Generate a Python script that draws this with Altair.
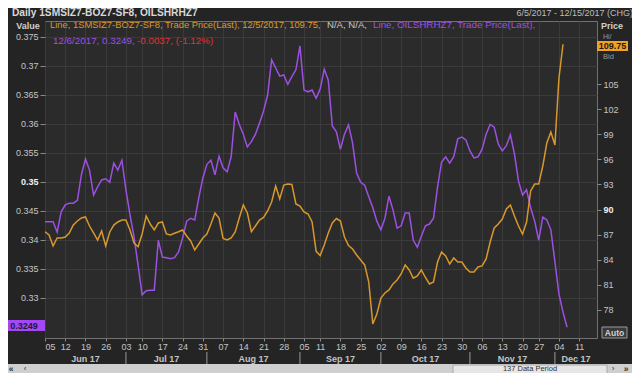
import altair as alt
import pandas as pd

FONT = "Liberation Sans"
BG = "#242424"
PLOT_BG = "#2b2b2b"
GRID = "#3b3b3b"
LBL = "#c4c4c4"
PURPLE = "#9d50e2"
ORANGE = "#d8982c"
RED = "#e03232"

# OILSHRHZ7 (left axis, "Value") - one value per trading day from 6/5/2017
purple_vals = [
    0.3431, 0.3431, 0.3431, 0.3413, 0.3448, 0.3460, 0.3463, 0.3463, 0.3468, 0.3512,
    0.3539, 0.3520, 0.3477, 0.3491, 0.3503, 0.3505, 0.3499, 0.3532, 0.3520, 0.3537,
    0.3486, 0.3443, 0.3405, 0.3356, 0.3305, 0.3312, 0.3313, 0.3313, 0.3399, 0.3370,
    0.3369, 0.3367, 0.3369, 0.3379, 0.3403, 0.3432, 0.3437, 0.3434, 0.3472, 0.3506,
    0.3530, 0.3537, 0.3512, 0.3544, 0.3524, 0.3517, 0.3543, 0.3620, 0.3599, 0.3582,
    0.3560, 0.3569, 0.3582, 0.3601, 0.3622, 0.3649, 0.3710, 0.3696, 0.3682, 0.3684,
    0.3668, 0.3681, 0.3693, 0.3734, 0.3658, 0.3655, 0.3658, 0.3644, 0.3660, 0.3694,
    0.3675, 0.3596, 0.3586, 0.3556, 0.3582, 0.3598, 0.3567, 0.3515, 0.3499, 0.3494,
    0.3474, 0.3455, 0.3432, 0.3417, 0.3437, 0.3475, 0.3451, 0.3420, 0.3424, 0.3446,
    0.3446, 0.3399, 0.3387, 0.3406, 0.3424, 0.3427, 0.3437, 0.3491, 0.3534, 0.3543,
    0.3532, 0.3543, 0.3574, 0.3577, 0.3572, 0.3553, 0.3541, 0.3543, 0.3556, 0.3582,
    0.3599, 0.3594, 0.3565, 0.3553, 0.3562, 0.3581, 0.3548, 0.3501, 0.3477, 0.3486,
    0.3455, 0.3432, 0.3399, 0.3439, 0.3434, 0.3417, 0.3362, 0.3306, 0.3275, 0.3249,
]

# 1SMSIZ7-BOZ7-SF8 (right axis, "Price")
orange_vals = [
    87.35, 86.96, 85.65, 86.60, 86.60, 86.72, 87.20, 88.15, 88.63, 88.99,
    89.11, 88.03, 87.20, 86.36, 87.44, 85.65, 87.32, 88.15, 88.51, 88.75,
    88.75, 87.56, 86.00, 85.56, 87.08, 89.23, 88.27, 87.56, 88.39, 88.51,
    87.08, 86.96, 87.16, 87.35, 87.56, 86.84, 86.24, 85.17, 85.88, 86.60,
    87.08, 88.27, 89.59, 88.99, 86.54, 86.36, 86.60, 87.32, 88.99, 90.54,
    89.59, 87.35, 88.03, 88.75, 89.05, 89.83, 90.90, 92.81, 91.26, 92.93,
    93.05, 93.00, 90.66, 90.42, 89.71, 89.47, 88.51, 85.00, 84.50, 85.76,
    87.20, 88.39, 88.93, 88.63, 86.72, 85.70, 85.29, 84.57, 83.97, 83.38,
    81.34, 76.33, 77.52, 79.43, 80.03, 80.39, 81.11, 81.58, 82.30, 83.38,
    82.78, 81.79, 82.06, 82.78, 81.88, 81.11, 81.34, 83.73, 84.93, 84.45,
    83.49, 84.21, 83.73, 83.73, 83.02, 82.54, 82.54, 83.14, 83.26, 84.09,
    86.12, 87.80, 88.27, 88.87, 90.07, 90.54, 89.23, 88.03, 87.08, 88.51,
    92.22, 93.05, 93.05, 95.20, 97.95, 99.27, 97.71, 105.72, 109.75,
]

left_ticks = [0.33, 0.335, 0.34, 0.345, 0.35, 0.355, 0.36, 0.365, 0.37, 0.375]
right_ticks = [78, 81, 84, 87, 90, 93, 96, 99, 102, 105]
left_domain = [0.32305, 0.37771]
right_domain = [74.65, 112.53]

# trading-day calendar (137 data periods)
holidays = {"2017-07-04", "2017-09-04", "2017-11-23"}
days = [d for d in pd.bdate_range("2017-06-05", "2017-12-15")
        if d.strftime("%Y-%m-%d") not in holidays]
x_max = 136.4

purple = pd.DataFrame({"idx": list(range(len(purple_vals))),
                       "date": [days[i].strftime("%Y-%m-%d") for i in range(len(purple_vals))],
                       "value": purple_vals})
orange = pd.DataFrame({"idx": list(range(len(orange_vals))),
                       "date": [days[i].strftime("%Y-%m-%d") for i in range(len(orange_vals))],
                       "price": orange_vals})

week_idx, week_lbl, seen = [], [], set()
for i, d in enumerate(days):
    k = tuple(d.isocalendar()[:2])
    if k not in seen:
        seen.add(k)
        week_idx.append(i)
        week_lbl.append(d.strftime("%d"))

month_first = {}
for i, d in enumerate(days):
    month_first.setdefault(d.strftime("%b %y"), i)
m_names = list(month_first.keys())
m_start = [month_first[m] for m in m_names]
m_end = m_start[1:] + [x_max]
months = pd.DataFrame({"label": m_names, "start": m_start,
                       "mid": [(a + b) / 2 for a, b in zip(m_start, m_end)]})
seps = months.iloc[1:][["start"]]

label_expr = ("[" + ",".join("'%s'" % s for s in week_lbl) + "][indexof(["
              + ",".join(str(i) for i in week_idx) + "], datum.value)]")

x_axis = alt.Axis(values=week_idx, labelExpr=label_expr, title=None, grid=True,
                  gridColor=GRID, domain=False, tickColor="#8a8a8a", tickSize=3,
                  labelColor=LBL, labelFontSize=9, labelFont=FONT, labelPadding=1,
                  labelFlush=True, labelOverlap=False)
x_scale = alt.Scale(domain=[0, x_max], nice=False, zero=False)


def xenc(field):
    return alt.X(field, scale=x_scale, axis=x_axis)


purple_line = alt.Chart(purple).mark_line(color=PURPLE, strokeWidth=1.5).encode(
    x=xenc("idx:Q"),
    y=alt.Y("value:Q", scale=alt.Scale(domain=left_domain, nice=False, zero=False),
            axis=alt.Axis(orient="left", values=left_ticks, format=".3~f", title=None,
                          grid=True, gridColor=GRID, domain=False, tickColor="#8a8a8a",
                          tickSize=5, labelPadding=2, labelFontSize=9, labelFont=FONT,
                          labelColor=alt.condition("abs(datum.value - 0.35) < 1e-6",
                                                   alt.value("#f0f0f0"), alt.value(LBL)),
                          labelFontWeight=alt.condition("abs(datum.value - 0.35) < 1e-6",
                                                        alt.value("bold"), alt.value("normal")))),
)

orange_line = alt.Chart(orange).mark_line(color=ORANGE, strokeWidth=1.5).encode(
    x=xenc("idx:Q"),
    y=alt.Y("price:Q", scale=alt.Scale(domain=right_domain, nice=False, zero=False),
            axis=alt.Axis(orient="right", values=right_ticks, title=None, grid=False,
                          domain=False, tickColor="#8a8a8a", tickSize=4, labelPadding=2,
                          labelFontSize=9, labelFont=FONT,
                          labelColor=alt.condition("datum.value == 90",
                                                   alt.value("#f0f0f0"), alt.value(LBL)),
                          labelFontWeight=alt.condition("datum.value == 90",
                                                        alt.value("bold"), alt.value("normal")))),
)

month_text = alt.Chart(months).mark_text(font=FONT, fontSize=9, fontWeight="bold",
                                         color=LBL, baseline="middle").encode(
    x=xenc("mid:Q"), y=alt.value(338), text="label:N")
month_sep = alt.Chart(seps).mark_rule(color="#9a9a9a", strokeWidth=1).encode(
    x=xenc("start:Q"), y=alt.value(331), y2=alt.value(345))

one = pd.DataFrame({"a": [0]})
OX, OY = 45, 21  # page position of the plot's top-left corner


def txt(s, px, py, color, size=9, weight="normal", align="left"):
    return alt.Chart(one).mark_text(text=s, align=align, baseline="middle", color=color,
                                    fontSize=size, fontWeight=weight, font=FONT).encode(
        x=alt.value(px - OX), y=alt.value(py - OY))


def box(x1, x2, y1, y2, fill, stroke=None):
    kw = {"fill": fill}
    if stroke:
        kw["stroke"] = stroke
        kw["strokeWidth"] = 1
    return alt.Chart(one).mark_rect(**kw).encode(
        x=alt.value(x1 - OX), x2=alt.value(x2 - OX), y=alt.value(y1 - OY), y2=alt.value(y2 - OY))


deco = [
    txt("Daily 1SMSIZ7-BOZ7-SF8, OILSHRHZ7", 12, 13, "#d8d8d8", 10.2, "bold"),
    txt("6/5/2017 - 12/15/2017 (CHG)", 633, 13, "#bdbdbd", 9, align="right"),
    txt("Value", 28, 26, "#d0d0d0", 9, "bold", "center"),
    txt("Price", 601, 26, "#d0d0d0", 9, "bold"),
    txt("Line, 1SMSIZ7-BOZ7-SF8, Trade Price(Last), 12/5/2017, 109.75,", 50, 25, ORANGE, 9.4),
    txt("N/A, N/A,", 327, 25, "#c8c8c8", 9.6),
    txt("Line, OILSHRHZ7, Trade Price(Last),", 373, 25, PURPLE, 9.8),
    txt("12/6/2017, 0.3249,", 53, 41, PURPLE, 9.8),
    txt("-0.0037, (-1.12%)", 137, 41, RED, 9.8),
    box(3, 45, 320, 331, "#a447f5"),
    txt("0.3249", 24, 325.5, "#1b1b3a", 9, "bold", "center"),
    txt("Hi/", 603, 36.5, "#9a9a9a", 7),
    txt("Bid", 603, 56.5, "#9a9a9a", 7.5),
    box(597, 628, 41, 51, "#f0a224"),
    txt("109.75", 612.5, 46, "#1a1a1a", 9, "bold", "center"),
    box(602, 627, 327, 338, "#3a3a3a", "#9a9a9a"),
    txt("Auto", 614.5, 332.5, "#d0d0d0", 8.5, "bold", "center"),
    box(3, 637, 364, 380, "#cfcfcf"),
    box(453, 607, 365, 378, "#e6e6e6", "#a8a8a8"),
    txt("137 Data Period", 530, 368.5, "#303030", 7.5, "normal", "center"),
    txt("«", 11, 368.5, "#303030", 8.5, "bold", "center"),
    txt("‹", 25, 368.5, "#303030", 8, "normal", "center"),
    txt("›", 613, 368.5, "#303030", 8, "normal", "center"),
    txt("»", 626, 368.5, "#303030", 8.5, "bold", "center"),
]

chart = alt.layer(purple_line, orange_line, month_text, month_sep, *deco).resolve_scale(
    y="independent"
).properties(
    width=552, height=317,
    autosize=alt.AutoSizeParams(type="none"),
    padding={"left": 37, "top": 13, "right": 35, "bottom": 35},
).configure(background=BG).configure_view(stroke="#707070", strokeWidth=1, fill=PLOT_BG)

chart.save("out.html", embed_options={"renderer": "svg", "actions": False})
